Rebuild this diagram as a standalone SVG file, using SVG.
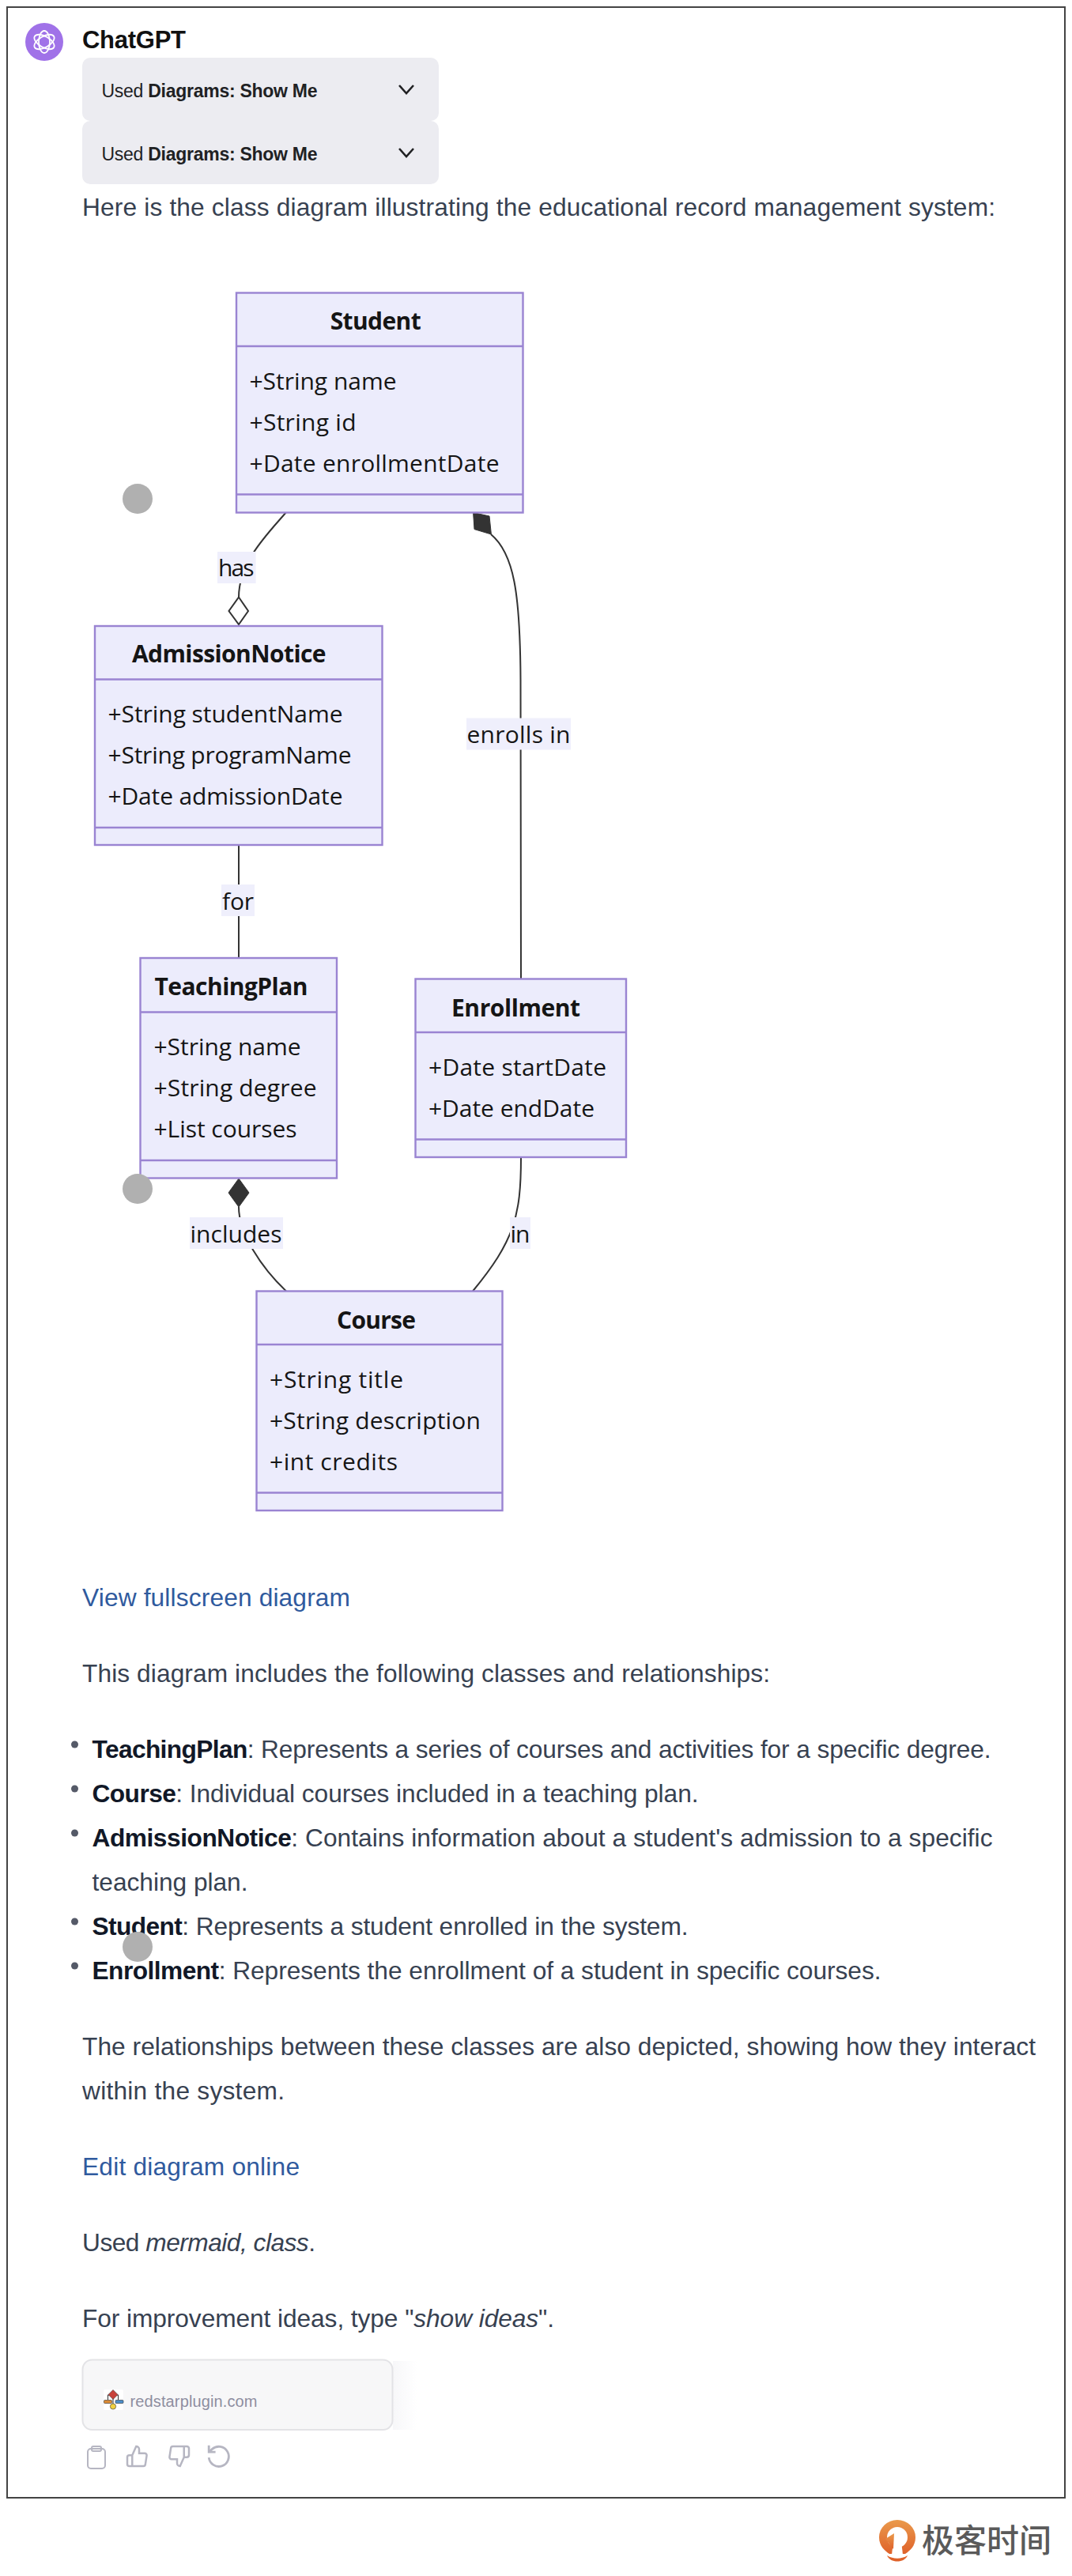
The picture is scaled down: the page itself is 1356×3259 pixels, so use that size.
<svg xmlns="http://www.w3.org/2000/svg" width="1356" height="3259" viewBox="0 0 1356 3259">
<style>
.box{fill:#ececfc;stroke:#9a84d2;stroke-width:2.4}
.div{stroke:#9a84d2;stroke-width:2.4;fill:none}
.t{font-family:"Open Sans","Noto Sans",sans-serif;font-size:30px;fill:#151515}
.h{font-family:"Open Sans","Noto Sans",sans-serif;font-size:30px;font-weight:700;fill:#151515}
.edge{fill:none;stroke:#333;stroke-width:2}
.lab{fill:#efeffc}
.b{font-family:"Liberation Sans",Arial,sans-serif;font-size:31.7px;fill:#374151}
.s{font-weight:700;fill:#111827;letter-spacing:-.5px}
.lnk{fill:#2f5a9e}
.card{fill:#ececf1}
.u{font-family:"Liberation Sans",Arial,sans-serif;font-size:23px;fill:#202123}
.chev{fill:none;stroke:#202123;stroke-width:2.6}
.dot{fill:#555a68}
.tap{fill:#b0b0b0}
.ic{fill:none;stroke:#b6b6c2;stroke-width:2}
</style>
<defs>
<linearGradient id="lg" x1="0" y1="0" x2="0" y2="1"><stop offset="0" stop-color="#ea9a4c"/><stop offset="1" stop-color="#df622a"/></linearGradient>
<linearGradient id="sh" x1="0" y1="0" x2="1" y2="0"><stop offset="0" stop-color="#f7f7f9"/><stop offset="1" stop-color="#ffffff"/></linearGradient>
</defs>
<rect width="1356" height="3259" fill="#fff"/>
<rect x="9" y="9" width="1338" height="3151" fill="#fff" stroke="#444" stroke-width="2"/>

<g id="header">
<circle cx="56" cy="53" r="24" fill="#a072e8"/>
<g fill="none" stroke="#fff" stroke-width="1.8">
<ellipse cx="56" cy="53" rx="7" ry="14"/>
<ellipse cx="56" cy="53" rx="7" ry="14" transform="rotate(60 56 53)"/>
<ellipse cx="56" cy="53" rx="7" ry="14" transform="rotate(120 56 53)"/>
</g>
<text x="104" y="60.5" font-family="Liberation Sans,Arial,sans-serif" font-size="31px" font-weight="700" fill="#111" textLength="131">ChatGPT</text>
<rect class="card" x="104" y="73" width="451" height="80" rx="10"/>
<rect class="card" x="104" y="153" width="451" height="80" rx="10"/>
<text class="u" x="128.500" y="123.300" textLength="273">Used <tspan font-weight="700">Diagrams: Show Me</tspan></text>
<text class="u" x="128.500" y="203" textLength="273">Used <tspan font-weight="700">Diagrams: Show Me</tspan></text>
<path class="chev" d="M505 108L514 118L523 108"/>
<path class="chev" d="M505 188L514 198L523 188"/>
<text class="b" x="104" y="272.700" textLength="1155">Here is the class diagram illustrating the educational record management system:</text>
</g>

<g id="connectors">
<path class="edge" d="M362 648C340 674 302 710 302 755.500"/>
<path d="M302 755.500L314 773L302 790L289.500 773Z" fill="#fff" stroke="#333" stroke-width="2"/>
<path class="edge" d="M621 676C650 700 658 750 658.500 860L659 1238.500"/>
<path d="M598.600 648.500L619 653L621.400 676L600 669.600Z" fill="#333" stroke="#333" stroke-width="1"/>
<path class="edge" d="M302 1069V1212"/>
<path class="edge" d="M302 1527C302 1560 330 1603 362 1633.500"/>
<path d="M302 1491L315 1509L302 1527L289 1509Z" fill="#333" stroke="#333" stroke-width="1"/>
<path class="edge" d="M659 1464C659 1540 650 1570 598 1633.500"/>
</g>

<g id="edge-labels">
<rect class="lab" x="275" y="698" width="48.600" height="40"/>
<text class="t" x="276" y="729" textLength="45.500">has</text>
<rect class="lab" x="590" y="908.500" width="132" height="40"/>
<text class="t" x="590.500" y="939.500" textLength="131">enrolls in</text>
<rect class="lab" x="280" y="1119" width="42" height="40"/>
<text class="t" x="281" y="1151" textLength="40">for</text>
<rect class="lab" x="240" y="1540" width="118" height="40"/>
<text class="t" x="240.500" y="1572" textLength="116">includes</text>
<rect class="lab" x="645" y="1540" width="26" height="40"/>
<text class="t" x="645.500" y="1572" textLength="25">in</text>
</g>

<g id="node-student">
<rect class="box" x="299" y="370.500" width="362.500" height="278"/>
<path class="div" d="M299 438H661.500M299 625.500H661.500"/>
<text class="h" x="417.700" y="416.700" textLength="115">Student</text>
<text class="t" x="315.500" y="493" textLength="186">+String name</text>
<text class="t" x="315.500" y="545" textLength="135">+String id</text>
<text class="t" x="315.500" y="597" textLength="316">+Date enrollmentDate</text>
</g>
<g id="node-admissionnotice">
<rect class="box" x="120" y="792" width="363.500" height="277"/>
<path class="div" d="M120 859.500H483.500M120 1047H483.500"/>
<text class="h" x="167" y="838" textLength="245.500">AdmissionNotice</text>
<text class="t" x="136.500" y="914" textLength="297">+String studentName</text>
<text class="t" x="136.500" y="966" textLength="308">+String programName</text>
<text class="t" x="136.500" y="1018" textLength="297">+Date admissionDate</text>
</g>
<g id="node-teachingplan">
<rect class="box" x="177.500" y="1212" width="248.500" height="278.500"/>
<path class="div" d="M177.500 1280.500H426M177.500 1468H426"/>
<text class="h" x="195.500" y="1259" textLength="194">TeachingPlan</text>
<text class="t" x="194.500" y="1335" textLength="186">+String name</text>
<text class="t" x="194.500" y="1387" textLength="206">+String degree</text>
<text class="t" x="194.500" y="1439" textLength="181">+List courses</text>
</g>
<g id="node-enrollment">
<rect class="box" x="525.500" y="1238.500" width="266.500" height="225.500"/>
<path class="div" d="M525.500 1306H792M525.500 1441.500H792"/>
<text class="h" x="571" y="1285.500" textLength="163">Enrollment</text>
<text class="t" x="542" y="1361" textLength="225">+Date startDate</text>
<text class="t" x="542" y="1413" textLength="210">+Date endDate</text>
</g>
<g id="node-course">
<rect class="box" x="324.500" y="1633.500" width="311" height="277.500"/>
<path class="div" d="M324.500 1701H635.500M324.500 1888.500H635.500"/>
<text class="h" x="426" y="1680.500" textLength="100">Course</text>
<text class="t" x="341" y="1756" textLength="169">+String title</text>
<text class="t" x="341" y="1808" textLength="267">+String description</text>
<text class="t" x="341" y="1860" textLength="162">+int credits</text>
</g>

<g id="body">
<text class="b lnk" x="104" y="2032" textLength="339">View fullscreen diagram</text>
<text class="b" x="104" y="2128" textLength="870">This diagram includes the following classes and relationships:</text>
<circle class="dot" cx="94.500" cy="2207" r="4.500"/>
<circle class="dot" cx="94.500" cy="2263" r="4.500"/>
<circle class="dot" cx="94.500" cy="2319" r="4.500"/>
<circle class="dot" cx="94.500" cy="2431" r="4.500"/>
<circle class="dot" cx="94.500" cy="2487" r="4.500"/>
<text class="b" x="116.500" y="2224" textLength="1137"><tspan class="s">TeachingPlan</tspan>: Represents a series of courses and activities for a specific degree.</text>
<text class="b" x="116.500" y="2280" textLength="767"><tspan class="s">Course</tspan>: Individual courses included in a teaching plan.</text>
<text class="b" x="116.500" y="2336" textLength="1139"><tspan class="s">AdmissionNotice</tspan>: Contains information about a student's admission to a specific</text>
<text class="b" x="116.500" y="2392" textLength="197">teaching plan.</text>
<text class="b" x="116.500" y="2448" textLength="754"><tspan class="s">Student</tspan>: Represents a student enrolled in the system.</text>
<text class="b" x="116.500" y="2504" textLength="998"><tspan class="s">Enrollment</tspan>: Represents the enrollment of a student in specific courses.</text>
<text class="b" x="104" y="2600" textLength="1206">The relationships between these classes are also depicted, showing how they interact</text>
<text class="b" x="104" y="2656" textLength="256">within the system.</text>
<text class="b lnk" x="104" y="2752" textLength="275">Edit diagram online</text>
<text class="b" x="104" y="2848" textLength="295">Used <tspan font-style="italic">mermaid, class</tspan>.</text>
<text class="b" x="104" y="2944" textLength="597">For improvement ideas, type "<tspan font-style="italic">show ideas</tspan>".</text>
</g>

<g id="tap-markers">
<circle class="tap" cx="174" cy="631" r="19"/>
<circle class="tap" cx="174" cy="1504" r="19"/>
<circle class="tap" cx="174" cy="2463" r="19"/>
</g>

<g id="plugin-card">
<rect x="497" y="2987" width="30" height="87" fill="url(#sh)"/>
<rect x="104.500" y="2985.500" width="392" height="88.500" rx="12" fill="#f7f7f8" stroke="#e3e3e6" stroke-width="2"/>
<rect x="131" y="3023" width="25" height="26" rx="2" fill="#fff"/>
<path d="M136.500 3036V3030H149.500V3036M143 3034V3041" fill="none" stroke="#333" stroke-width="1"/>
<path d="M143 3023.500L149 3029.500L143 3035.500L137 3029.500Z" fill="#c8423a" stroke="#333" stroke-width=".6"/>
<rect x="131.500" y="3036.500" width="10" height="4" rx="1" fill="#d98a35" stroke="#333" stroke-width=".6"/>
<rect x="146" y="3036.500" width="10" height="4" rx="1" fill="#4a8cc8" stroke="#333" stroke-width=".6"/>
<circle cx="143" cy="3044.500" r="3.600" fill="#f0d040" stroke="#333" stroke-width=".6"/>
<text x="164.500" y="3044.500" font-family="Liberation Sans,Arial,sans-serif" font-size="20px" fill="#8e8ea0" textLength="161">redstarplugin.com</text>
</g>

<g id="actions">
<rect class="ic" x="111" y="3098" width="22" height="25" rx="4"/>
<rect class="ic" x="116" y="3095" width="12" height="6" rx="2" fill="#fff"/>
<path class="ic" transform="translate(158.500 3092.500) scale(1.25)" d="M14 9V5a3 3 0 0 0-3-3l-4 9v11h11.280a2 2 0 0 0 2-1.700l1.380-9a2 2 0 0 0-2-2.300zM7 22H4a2 2 0 0 1-2-2v-7a2 2 0 0 1 2-2h3"/>
<path class="ic" transform="translate(211.500 3092.500) scale(1.25)" d="M10 15v4a3 3 0 0 0 3 3l4-9V2H5.720a2 2 0 0 0-2 1.700l-1.380 9a2 2 0 0 0 2 2.300zm7-13h2.670A2.310 2.310 0 0 1 22 4v7a2.310 2.310 0 0 1-2.330 2H17"/>
<path class="ic" transform="translate(260 3091) scale(1.4)" d="M3 2v6h6M3 13a9 9 0 1 0 3-7.700L3 8"/>
</g>

<g id="watermark">
<path d="M1135 3188a23 22 0 0 1 23 22c0 11-7 17-13 21h-20c-6-4-13-10-13-21a23 22 0 0 1 23-22Z" fill="url(#lg)"/>
<circle cx="1135" cy="3210" r="13" fill="#fff"/>
<path d="M1128 3232L1131 3206L1139 3206L1142 3232Z" fill="#fff"/>
<path d="M1120 3212L1131 3205L1130 3225Z" fill="url(#lg)"/>
<path d="M1122 3233C1130 3238 1140 3238 1148 3233C1144 3243 1126 3243 1122 3233Z" fill="#df622a"/>
<text x="1166" y="3229" font-family="Noto Sans CJK SC,sans-serif" font-size="41px" font-weight="500" fill="#5a5a5a" textLength="164">极客时间</text>
</g>
</svg>
